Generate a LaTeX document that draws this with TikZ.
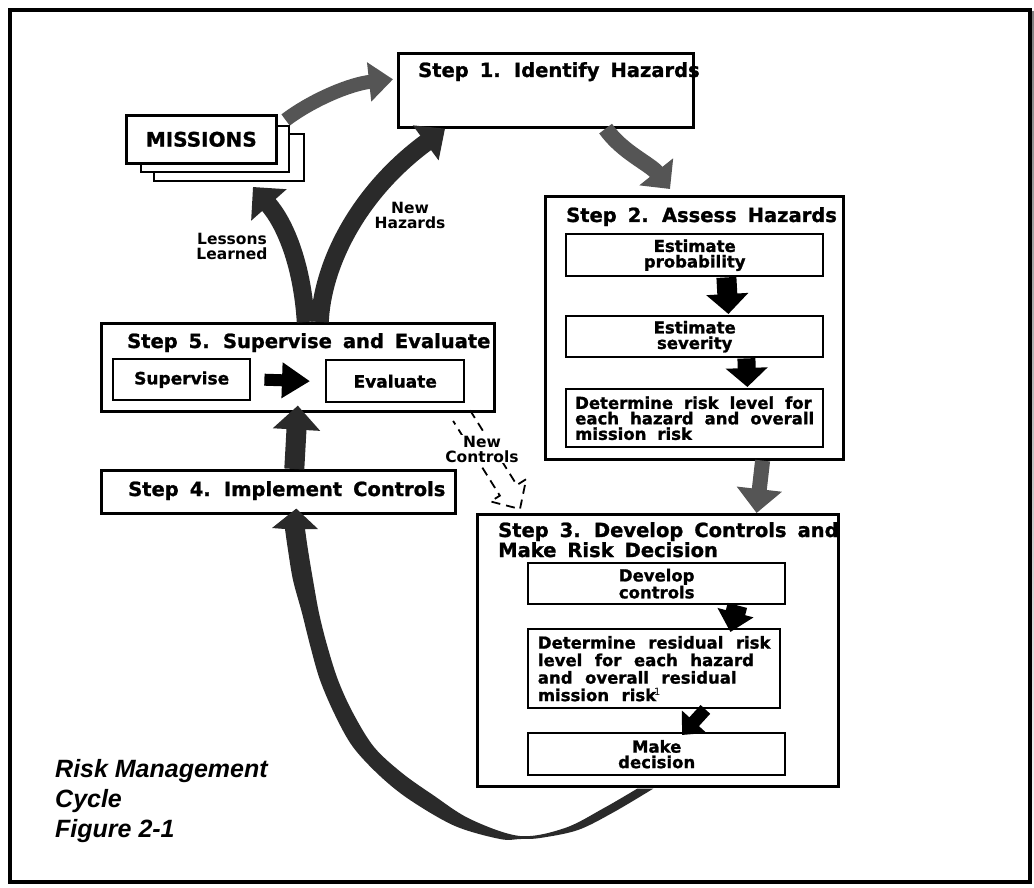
\documentclass[tikz,border=0pt]{standalone}
\usepackage{fontspec}
\setmainfont{DejaVu Sans}
\newfontfamily\capfont{Liberation Sans}
\newfontfamily\heavy{DejaVu Sans Bold}[FakeBold=1.2]
\usetikzlibrary{arrows.meta,calc}
\pgfdeclarelayer{back}
\pgfdeclarelayer{under}
\pgfsetlayers{back,under,main}
\definecolor{gA}{HTML}{555555}
\definecolor{gD}{HTML}{2A2A2A}
\definecolor{shade}{HTML}{7F7F7F}
\tikzset{
  box/.style={draw, line width=2.6pt, fill=white, inner sep=0pt, anchor=north west},
  ibox/.style={box, line width=2.4pt, align=center, font={\heavy\fontsize{16.5}{15.5}\selectfont}},
  ttl/.style={inner sep=0pt, anchor=base west, font={\heavy\fontsize{19.5}{20}\selectfont\spaceskip=11pt plus 2pt minus 1pt\relax}},
  lbl/.style={inner sep=1pt, align=center, font={\fontsize{15.5}{15}\selectfont\bfseries}},
  captxt/.style={inner sep=0pt, anchor=base west, font={\capfont\fontsize{25}{30}\selectfont\bfseries\itshape}},
  garrow/.style={draw=gA},
  darrow/.style={draw=gD},
  barrow/.style={draw=black},
  dsh/.style={draw=black, line width=1.8pt, dash pattern=on 9pt off 6pt}
}
\newcommand\wsA{\spaceskip=11pt\relax}
\newcommand\wsB{\spaceskip=12.5pt\relax}
\begin{document}
\begin{tikzpicture}[x=1pt,y=-1pt]
\useasboundingbox (0,0) rectangle (1034,888);
\begin{pgfonlayer}{back}
\fill[shade] (23,12) rectangle (1036,890);
\draw[line width=4pt, fill=white] (9.5,10) rectangle (1030,881.5);
\end{pgfonlayer}

% Step 1
\node[box, minimum width=295pt, minimum height=74pt] (s1) at (397,52) {};
\node[ttl] (s1t) at (418,77) {Step 1. Identify Hazards};

% Missions stack
\node[box, line width=2pt, minimum width=150pt, minimum height=47pt] (m3) at (153,133) {};
\node[box, line width=2pt, minimum width=148pt, minimum height=46pt] (m2) at (140,125) {};
\node[box, minimum width=150pt, minimum height=48pt, font={\heavy\fontsize{20}{20}\selectfont}] (m1) at (125,114) {MISSIONS};

% Step 2
\node[box, minimum width=298pt, minimum height=263pt] (s2) at (544,195) {};
\node[ttl] (s2t) at (566,222) {Step 2. Assess Hazards};
\node[ibox, minimum width=257pt, minimum height=42pt] (prob) at (565,233) {Estimate\\probability};
\node[ibox, minimum width=257pt, minimum height=41pt] (sev) at (565,315) {Estimate\\severity};
\node[ibox, minimum width=257pt, minimum height=58pt, align=left] (det) at (565,388)
  {\wsA Determine risk level for\\\wsA each hazard and overall\\\wsA mission risk};

% Step 3
\node[box, minimum width=361pt, minimum height=272pt] (s3) at (476,513) {};
\node[ttl] (s3t) at (498,537) {Step 3. Develop Controls and};
\node[ttl] (s3u) at (498,557) {Make Risk Decision};
\node[ibox, minimum width=257pt, minimum height=41pt] (dev) at (527,562) {Develop\\controls};
\node[ibox, minimum width=252pt, minimum height=79pt, align=left,
  font={\heavy\fontsize{16.5}{17.5}\selectfont}] (res) at (527,628)
  {\wsB Determine residual risk\\\wsB level for each hazard\\\wsB and overall residual\\\wsB mission risk\kern-2pt\raisebox{6pt}{\normalfont\fontsize{10}{10}\selectfont 1}};
\node[ibox, minimum width=257pt, minimum height=42pt] (dec) at (527,732) {Make\\decision};

% Step 5
\node[box, minimum width=393pt, minimum height=88pt] (s5) at (100,322) {};
\node[ttl] (s5t) at (127,348) {Step 5. Supervise and Evaluate};
\node[box, line width=2.4pt, minimum width=137pt, minimum height=41pt, font={\heavy\fontsize{17}{17}\selectfont}] (sup) at (112,358) {Supervise};
\node[box, line width=2.4pt, minimum width=138pt, minimum height=42pt, font={\heavy\fontsize{17}{17}\selectfont}] (eva) at (325,359) {Evaluate};

% Step 4
\node[box, minimum width=354pt, minimum height=43pt] (s4) at (100,469) {};
\node[ttl] (s4t) at (128,496) {Step 4. Implement Controls};

% Labels
\node[lbl] (ll) at (232,246) {Lessons\\Learned};
\node[lbl] (nh) at (410,215) {New\\Hazards};

% Caption
\node[captxt] (c1) at (55,777) {Risk Management};
\node[captxt] (c2) at (55,807) {Cycle};
\node[captxt] (c3) at (55,837) {Figure 2-1};

% Arrows
\begin{pgfonlayer}{under}
\draw[garrow, line width=14pt, -{Triangle[length=24pt,width=38pt]}]
  ([xshift=8pt,yshift=-6pt]m1.north east) .. controls (312,100) and (350,84) .. ([xshift=-4pt,yshift=11pt]s1.west);
\end{pgfonlayer}
\draw[garrow, line width=16pt, -{Triangle[length=22pt,width=42pt]}]
  ([xshift=-89pt]s1.south east) .. controls (622,152) and (650,164) .. ([xshift=126pt,yshift=6pt]s2.north west);
\draw[garrow, line width=15pt, -{Triangle[length=24pt,width=44pt]}]
  ([xshift=-82pt]s2.south east) -- ([xshift=-83pt]s3.north east);
\draw[barrow, line width=20pt, -{Triangle[length=20pt,width=41pt]}]
  ([xshift=-98pt]prob.south east) -- ([xshift=-96pt,yshift=1pt]sev.north east);
\draw[barrow, line width=18pt, -{Triangle[length=19pt,width=41pt]}]
  ([xshift=-78pt]sev.south east) -- ([xshift=-77pt,yshift=1pt]det.north east);
\draw[barrow, line width=20pt, -{Triangle[length=20pt,width=36pt]}]
  ([xshift=-49pt]dev.south east) -- ([xshift=-51pt,yshift=-4pt]res.north east);
\draw[barrow, line width=13pt, -{Triangle[length=18pt,width=32pt]}]
  ([xshift=-76pt]res.south east) -- ([xshift=155pt,yshift=-3pt]dec.north west);
\draw[barrow, line width=12pt, -{Triangle[length=28pt,width=34pt]}]
  ([xshift=13pt]sup.east) -- ([xshift=-15pt]eva.west);
\draw[darrow, line width=20pt, -{Triangle[length=24pt,width=46pt]}]
  ([xshift=16pt]s4.north) -- ([yshift=7pt]s5.south);
\draw[darrow, line width=18pt, -{Triangle[length=24pt,width=46pt]}]
  ([xshift=8pt]s5.north) .. controls (302,262) and (284,222) .. ([xshift=100pt,yshift=-5pt]m3.south west);
\draw[darrow, line width=18pt, -{Triangle[length=24pt,width=42pt]}]
  ([xshift=22pt]s5.north) .. controls (322,268) and (355,195) .. ([xshift=48pt]s1.south west);

% Big return curve from Step 3 to Step 4
\fill[gD] plot[smooth, tension=0.55] coordinates {([xshift=-4.5pt,yshift=-1pt]s3.south) (614,812) (578,830) (540,838) (520,839) (500,839) (455,826) (410,800) (380,776) (353,747) (335,715) (320,680) (310,645) (302,613) (293,580) (288,550) (285,529)}
  -- (272,528) -- ([xshift=18pt,yshift=6pt]s4.south) -- (318,529)
  -- plot[smooth, tension=0.55] coordinates {(305,529) (308,550) (313,580) (319,613) (327,645) (338,680) (353,713) (374,747) (402,773) (433,795) (470,819) (520,836) (565,828) (604,808) ([xshift=-20.5pt,yshift=-1pt]s3.south)}
  -- cycle;

% New Controls dashed arrow
\coordinate (ncs) at ([xshift=-34pt,yshift=-3pt]s5.south east);
\coordinate (nct) at ([xshift=44pt,yshift=4pt]s3.north west);
\coordinate (nchb) at ($(nct)!22pt!(ncs)$);
\draw[dsh] ($(ncs)!10pt!90:(nct)$) -- ($(nchb)!10pt!90:(nct)$) -- ($(nchb)!21pt!90:(nct)$) -- (nct)
  -- ($(nchb)!21pt!-90:(nct)$) -- ($(nchb)!10pt!-90:(nct)$) -- ($(ncs)!10pt!-90:(nct)$);
\node[lbl, fill=white] (nc) at (482,449) {New\\Controls};
\end{tikzpicture}
\end{document}
